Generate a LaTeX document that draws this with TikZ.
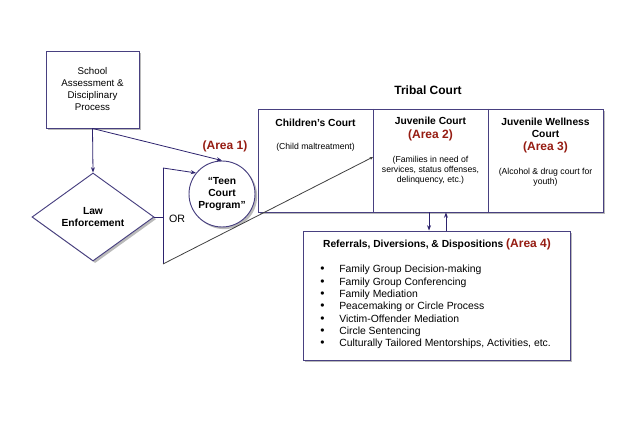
\documentclass[tikz,border=0pt]{standalone}
\usepackage{fontspec}
\setmainfont{Liberation Sans}
\usepackage{tikz}
\usetikzlibrary{shapes.geometric,shadows,arrows.meta}

\definecolor{boxline}{RGB}{72,64,128}
\definecolor{arrowline}{RGB}{45,35,110}
\definecolor{arealabel}{RGB}{150,28,18}

\newcommand{\listentry}[1]{\makebox[14.25pt][l]{\fontsize{9}{9}\selectfont\textbullet}#1}

\begin{document}
\begin{tikzpicture}[x=0.75pt,y=0.75pt,yscale=-1,xscale=1,inner sep=0pt,
  shade box/.style={draw=boxline,line width=0.7pt,fill=white,drop shadow={shadow xshift=1.6pt,shadow yshift=-1.6pt,opacity=0.45,fill=black!60}},
  link/.style={draw=arrowline,line width=0.6pt},
  tip/.style={-{Stealth[length=4pt,width=3pt]}},
  area/.style={text=arealabel,font=\fontsize{9}{10}\selectfont\bfseries},
  head/.style={font=\fontsize{7.7}{9}\selectfont\bfseries,align=center},
  small/.style={font=\fontsize{6.5}{7.5}\selectfont,align=center}]
\path (0,0) rectangle (636,434);

%Shape: Rectangle (school)
\node[shade box,minimum width=69.75pt,minimum height=57.75pt,align=center,font=\fontsize{7.3}{9}\selectfont] (school) at (92.5,89.5) {School\\Assessment \&\\Disciplinary\\Process};

%Shape: Diamond (law enforcement)
\node[shade box,diamond,aspect=1.39,minimum width=91.5pt,minimum height=66pt,head] (law) at (93,217) {Law\\Enforcement};

%Shape: Circle (teen court)
\node[shade box,circle,minimum size=49.5pt,head] (teen) at (222,194) {“Teen\\Court\\Program”};
\node[area] (area1) at (225,146) {(Area 1)};

%Shape: Rectangle (tribal court)
\node[font=\fontsize{9}{10}\selectfont\bfseries] (tribal title) at (428,90) {Tribal Court};
\node[shade box,minimum width=258.75pt,minimum height=77.25pt] (tribal) at (430.5,160.5) {};
\draw[boxline,line width=0.7pt] (373,109) -- (373,212);
\draw[boxline,line width=0.7pt] (488,109) -- (488,212);

\node[head] (cc name) at (315.5,123) {Children's Court};
\node[small] (cc note) at (315.5,147) {(Child maltreatment)};

\node[head] (jc name) at (430.5,121) {Juvenile Court};
\node[area] (area2) at (430.5,135) {(Area 2)};
\node[small] (jc note) at (430.5,170) {(Families in need of\\services, status offenses,\\delinquency, etc.)};

\node[head] (wc name) at (545.5,128) {Juvenile Wellness\\Court};
\node[area] (area3) at (545.5,147) {(Area 3)};
\node[small] (wc note) at (545.5,177) {(Alcohol \& drug court for\\youth)};

%Shape: Rectangle (referrals)
\node[shade box,minimum width=200.25pt,minimum height=96.75pt] (refer) at (436.5,295.5) {};
\node[head] (refer title) at (437,244) {Referrals, Diversions, \& Dispositions \textcolor{arealabel}{\fontsize{9}{10}\selectfont(Area 4)}};
\node[anchor=west,align=left,font=\fontsize{7.8}{9.25}\selectfont] (refer list) at (320,307) {\listentry{Family Group Decision-making}\\
\listentry{Family Group Conferencing}\\
\listentry{Family Mediation}\\
\listentry{Peacemaking or Circle Process}\\
\listentry{Victim-Offender Mediation}\\
\listentry{Circle Sentencing}\\
\listentry{Culturally Tailored Mentorships, Activities, etc.}};

\node[font=\fontsize{8}{9}\selectfont] (or label) at (177,219) {OR};

%Straight Lines
\coordinate (or mid) at (163,217);
\coordinate (or top) at (163,168);
\coordinate (or bot) at (163,264);
\coordinate (jc entry) at (373,157);
\coordinate (down top) at ([xshift=-1.1pt]tribal.south);
\coordinate (up top) at ([xshift=11.6pt]tribal.south);

\draw[link,tip] (school.south) -- (law.north);
\draw[link,tip] (school.south) -- (teen.north);
\draw[link] (law.east) -- (or mid);
\draw[link] (or top) -- (or bot);
\draw[link,tip] (or top) -- (teen.141);
\draw[line width=0.6pt,draw=black!75,-{Stealth[length=2.5pt,width=2.5pt]}] (or bot) -- (jc entry);

\draw[link,tip] (down top) -- (down top |- refer.north);
\draw[link,tip] (up top |- refer.north) -- (up top);
\end{tikzpicture}
\end{document}
